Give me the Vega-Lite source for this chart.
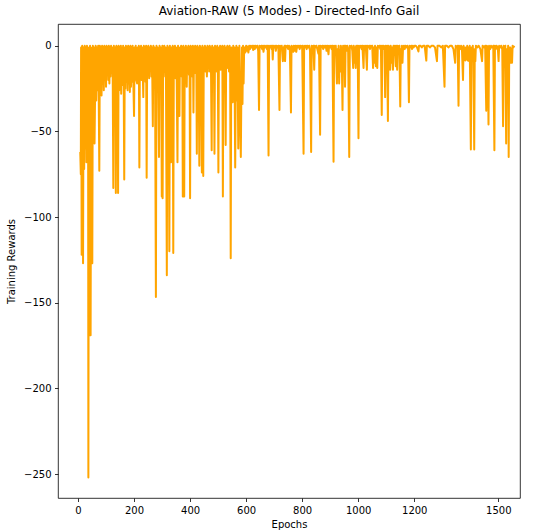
{
"$schema": "https://vega.github.io/schema/vega-lite/v6.json",
"width": 462, "height": 474,
"autosize": {"type": "none"},
"padding": {"left": 58, "top": 24, "right": 19, "bottom": 34},
"title": {"text": "Aviation-RAW (5 Modes) - Directed-Info Gail", "font": "DejaVu Sans", "fontSize": 12, "fontWeight": "normal", "color": "#000000", "offset": 6},
"config": {
 "view": {"stroke": "#000000", "strokeWidth": 0.8},
 "axis": {"domain": false, "grid": false, "ticks": true, "tickSize": 3.5, "tickWidth": 0.8, "tickColor": "#000000", "labelFont": "DejaVu Sans", "labelFontSize": 10, "labelColor": "#000000", "labelPadding": 3.5, "titleFont": "DejaVu Sans", "titleFontSize": 10, "titleFontWeight": "normal", "titleColor": "#000000"}
},
"data": {"values": [
{"e":8,"r":-62},{"e":10,"r":-75},{"e":11,"r":-1},{"e":12,"r":-35},{"e":13,"r":-122},{"e":15,"r":0},{"e":17,"r":-65},{"e":18,"r":-127},{"e":20,"r":-1},{"e":22,"r":-72},{"e":24,"r":0},{"e":26,"r":-60},{"e":28,"r":-1},{"e":30,"r":-68},{"e":32,"r":0},{"e":34,"r":-52},{"e":36,"r":-2},{"e":37,"r":-252},{"e":39,"r":-1},{"e":41,"r":-169},{"e":43,"r":0},{"e":45,"r":-169},{"e":47,"r":-2},{"e":48,"r":-45},{"e":49,"r":-62},{"e":50,"r":-1},{"e":51,"r":-127},{"e":53,"r":0},{"e":55,"r":-48},{"e":57,"r":-1},{"e":59,"r":-57},
{"e":61,"r":-28},{"e":63,"r":0},{"e":65,"r":-32},{"e":67,"r":-1},{"e":69,"r":-26},{"e":72,"r":0},{"e":74,"r":-30},{"e":76,"r":-73},{"e":78,"r":0},{"e":80,"r":-25},{"e":82,"r":-1},{"e":84,"r":-29},{"e":86,"r":0},{"e":88,"r":-22},{"e":90,"r":-1},{"e":92,"r":-26},{"e":94,"r":0},{"e":96,"r":-20},{"e":98,"r":-1},{"e":100,"r":-24},
{"e":102,"r":0},{"e":104,"r":-17},{"e":106,"r":-1},{"e":108,"r":-20},{"e":110,"r":0},{"e":112,"r":-22},{"e":114,"r":-1},{"e":116,"r":-18},{"e":118,"r":0},{"e":120,"r":-16},{"e":122,"r":-1},{"e":124,"r":-21},{"e":126,"r":-83},{"e":128,"r":0},
{"e":131,"r":-24},{"e":133,"r":-1},{"e":135,"r":-86},{"e":137,"r":0},{"e":139,"r":-21},{"e":141,"r":-1},{"e":143,"r":-86},{"e":145,"r":0},{"e":147,"r":-26},{"e":149,"r":-1},{"e":151,"r":-20},{"e":153,"r":0},{"e":154,"r":-28},{"e":156,"r":-1},{"e":159,"r":-23},{"e":161,"r":0},{"e":163,"r":-19},{"e":165,"r":-78},{"e":167,"r":-1},{"e":169,"r":-25},{"e":171,"r":0},{"e":173,"r":-21},{"e":175,"r":-1},{"e":177,"r":-26},{"e":179,"r":0},{"e":181,"r":-22},{"e":183,"r":-1},{"e":185,"r":-27},{"e":187,"r":0},{"e":189,"r":-24},{"e":191,"r":-1},{"e":193,"r":-21},{"e":195,"r":0},{"e":197,"r":-18},{"e":200,"r":-41},{"e":202,"r":-1},{"e":204,"r":-16},{"e":206,"r":0},{"e":208,"r":-20},{"e":211,"r":-22},{"e":213,"r":-1},{"e":215,"r":-14},{"e":217,"r":0},{"e":219,"r":-71},{"e":221,"r":-1},{"e":223,"r":-17},{"e":225,"r":0},{"e":227,"r":-20},{"e":229,"r":-1},{"e":231,"r":-15},{"e":233,"r":-30},{"e":235,"r":0},{"e":237,"r":-18},{"e":239,"r":-1},{"e":241,"r":-21},{"e":243,"r":0},{"e":245,"r":-77},{"e":247,"r":-1},{"e":249,"r":-16},{"e":251,"r":0},{"e":254,"r":-19},{"e":256,"r":-1},{"e":258,"r":-14},{"e":260,"r":0},{"e":262,"r":-18},{"e":264,"r":-1},{"e":267,"r":-47},{"e":269,"r":0},{"e":271,"r":-15},{"e":273,"r":-1},{"e":275,"r":-19},{"e":278,"r":-146.6},{"e":280,"r":0},{"e":282,"r":-17},{"e":284,"r":-1},{"e":286,"r":-13},{"e":289,"r":-65},{"e":291,"r":0},{"e":293,"r":-19},{"e":295,"r":-1},{"e":297,"r":-16},{"e":299,"r":-88},{"e":301,"r":0},{"e":302,"r":-89},{"e":304,"r":-1},{"e":306,"r":-18},{"e":308,"r":0},{"e":310,"r":-15},{"e":312,"r":-1},{"e":314,"r":-20},{"e":317,"r":-134},{"e":319,"r":0},{"e":321,"r":-16},{"e":323,"r":-1},{"e":326,"r":-120},{"e":328,"r":0},{"e":330,"r":-18},{"e":332,"r":-68},{"e":334,"r":-1},{"e":336,"r":-16},{"e":338,"r":0},{"e":340,"r":-121},{"e":342,"r":-1},{"e":344,"r":-14},{"e":346,"r":0},{"e":348,"r":-19},{"e":350,"r":-1},{"e":352,"r":-16},{"e":355,"r":-68},{"e":357,"r":0},{"e":359,"r":-17},{"e":362,"r":-41},{"e":364,"r":-1},{"e":366,"r":-13},{"e":368,"r":0},{"e":370,"r":-18},{"e":372,"r":-1},{"e":374,"r":-88},{"e":376,"r":0},{"e":379,"r":-88},{"e":381,"r":-1},{"e":383,"r":-16},{"e":385,"r":0},{"e":388,"r":-24},{"e":390,"r":-1},{"e":392,"r":-14},{"e":394,"r":0},{"e":396,"r":-17},{"e":398,"r":-1},{"e":400,"r":-89},{"e":402,"r":0},{"e":404,"r":-15},{"e":406,"r":-1},{"e":408,"r":-18},{"e":410,"r":0},{"e":412,"r":-39},{"e":414,"r":-1},{"e":416,"r":-12},{"e":418,"r":0},{"e":420,"r":-16},{"e":422,"r":-1},{"e":424,"r":-63},{"e":426,"r":0},{"e":428,"r":-14},{"e":430,"r":-1},{"e":433,"r":-70},{"e":435,"r":0},{"e":437,"r":-16},{"e":439,"r":-1},{"e":442,"r":-74},{"e":444,"r":0},{"e":447,"r":-76},{"e":449,"r":-1},{"e":451,"r":-13},{"e":453,"r":0},{"e":455,"r":-15},{"e":457,"r":-1},{"e":460,"r":-18},{"e":462,"r":0},{"e":464,"r":-12},{"e":466,"r":-1},{"e":468,"r":-15},{"e":470,"r":0},{"e":472,"r":-11},{"e":474,"r":-1},{"e":477,"r":-61},{"e":479,"r":0},{"e":481,"r":-14},{"e":483,"r":-1},{"e":485,"r":-10},{"e":487,"r":-63},{"e":489,"r":0},{"e":491,"r":-13},{"e":493,"r":-1},{"e":495,"r":-15},{"e":497,"r":0},{"e":499,"r":-11},{"e":501,"r":-74},{"e":503,"r":-1},{"e":505,"r":-13},{"e":507,"r":0},{"e":509,"r":-14},{"e":511,"r":-1},{"e":513,"r":-10},{"e":515,"r":0},{"e":517,"r":-88},{"e":519,"r":-1},{"e":521,"r":-12},{"e":523,"r":0},{"e":525,"r":-14},{"e":527,"r":-58},{"e":529,"r":-1},{"e":531,"r":-11},{"e":533,"r":0},{"e":535,"r":-13},{"e":537,"r":-1},{"e":539,"r":-15},{"e":541,"r":0},{"e":543,"r":-12},{"e":545,"r":-124},{"e":547,"r":-1},{"e":549,"r":-14},{"e":552,"r":-33},{"e":554,"r":0},{"e":556,"r":-18},{"e":558,"r":-1},{"e":561,"r":-71},{"e":563,"r":-22},{"e":565,"r":0},{"e":567,"r":-32},{"e":569,"r":-1},{"e":572,"r":-60},{"e":574,"r":-30},{"e":576,"r":0},{"e":578,"r":-36},{"e":581,"r":-65},{"e":583,"r":-28},{"e":585,"r":-1},{"e":587,"r":-34},{"e":589,"r":0},{"e":591,"r":-22},{"e":593,"r":-1},
{"e":595,"r":-1},{"e":597,"r":-4},{"e":600,"r":0},{"e":602,"r":-3},{"e":605,"r":-0.5},{"e":608,"r":-4},{"e":611,"r":0},{"e":614,"r":-2},{"e":617,"r":0},{"e":620,"r":-1},{"e":623,"r":0},{"e":625,"r":-2.5},{"e":628,"r":0},{"e":631,"r":-2},{"e":634,"r":0},{"e":637,"r":-1},{"e":640,"r":0},{"e":643,"r":-3},{"e":646,"r":-37.5},{"e":648,"r":0},{"e":651,"r":-1},{"e":654,"r":0},{"e":657,"r":-2},{"e":660,"r":0},{"e":662,"r":-3.6},{"e":665,"r":0},{"e":668,"r":-1},{"e":671,"r":0},{"e":674,"r":-2},{"e":677,"r":0},{"e":680,"r":-64},{"e":682,"r":0},{"e":685,"r":-1},{"e":688,"r":0},{"e":691,"r":-2},{"e":693,"r":0},{"e":695,"r":-8},{"e":697,"r":0},{"e":700,"r":-1},{"e":703,"r":0},{"e":706,"r":-3},{"e":709,"r":0},{"e":712,"r":-1},{"e":715,"r":0},{"e":719,"r":-37.5},{"e":721,"r":0},{"e":724,"r":-1},{"e":727,"r":0},{"e":731,"r":-9},{"e":733,"r":-1},{"e":735,"r":-8},{"e":737,"r":0},{"e":739,"r":-9},{"e":741,"r":0},{"e":744,"r":-1},{"e":747,"r":0},{"e":750,"r":-2},{"e":753,"r":0},{"e":756,"r":-1},{"e":760,"r":-39},{"e":762,"r":0},{"e":765,"r":-1},{"e":768,"r":-3.6},{"e":770,"r":0},{"e":773,"r":-3},{"e":776,"r":0},{"e":779,"r":-3.6},{"e":782,"r":0},{"e":785,"r":-1},{"e":788,"r":0},{"e":791,"r":-2},{"e":794,"r":0},{"e":797,"r":-1},{"e":800,"r":0},{"e":805,"r":-63},{"e":807,"r":0},{"e":810,"r":-1},{"e":813,"r":0},{"e":816,"r":-2},{"e":819,"r":0},{"e":822,"r":-1},{"e":825,"r":0},{"e":828,"r":-3},{"e":832,"r":-62},{"e":834,"r":0},{"e":837,"r":-1},{"e":840,"r":0},{"e":843,"r":-14},{"e":845,"r":0},{"e":848,"r":-1},{"e":851,"r":0},{"e":854,"r":-2},{"e":858,"r":-4.7},{"e":860,"r":0},{"e":864,"r":-52},{"e":866,"r":0},{"e":869,"r":-1},{"e":872,"r":0},{"e":875,"r":-2},{"e":878,"r":0},{"e":881,"r":-1},{"e":884,"r":0},{"e":887,"r":-3},{"e":890,"r":0},{"e":894,"r":-5},{"e":896,"r":0},{"e":899,"r":-1},{"e":902,"r":0},{"e":905,"r":-2},{"e":908,"r":0},{"e":912,"r":-67.7},{"e":914,"r":0},{"e":917,"r":-2},{"e":920,"r":0},{"e":924,"r":-22},{"e":926,"r":-2},{"e":928,"r":-18},{"e":930,"r":0},{"e":932,"r":-22},{"e":934,"r":-3},{"e":936,"r":-15},{"e":938,"r":0},{"e":941,"r":-4},{"e":944,"r":-37.5},{"e":946,"r":0},{"e":949,"r":-5},{"e":951,"r":0},{"e":953,"r":-24},{"e":955,"r":0},{"e":958,"r":-3},{"e":961,"r":0},{"e":964,"r":-2},{"e":968,"r":-65},{"e":970,"r":0},{"e":973,"r":-1},{"e":976,"r":0},{"e":979,"r":-3},{"e":982,"r":-13},{"e":984,"r":0},{"e":987,"r":-10},{"e":989,"r":-1},{"e":991,"r":-13},{"e":993,"r":0},{"e":996,"r":-8},{"e":998,"r":0},{"e":1001,"r":-54},{"e":1003,"r":0},{"e":1006,"r":-1},{"e":1009,"r":0},{"e":1012,"r":-2},{"e":1015,"r":0},{"e":1019,"r":-13},{"e":1021,"r":0},{"e":1024,"r":-1},{"e":1027,"r":0},{"e":1031,"r":-14},{"e":1033,"r":0},{"e":1036,"r":-1},{"e":1039,"r":0},{"e":1042,"r":-2},{"e":1045,"r":0},{"e":1048,"r":-1},{"e":1050,"r":0},{"e":1053,"r":-13},{"e":1055,"r":-1},{"e":1058,"r":-10},{"e":1060,"r":0},{"e":1063,"r":-12},{"e":1065,"r":-1},{"e":1068,"r":-13},{"e":1070,"r":0},{"e":1073,"r":-1},{"e":1076,"r":0},{"e":1079,"r":-2},{"e":1081,"r":0},{"e":1084,"r":-40.5},{"e":1086,"r":0},{"e":1089,"r":-2},{"e":1091,"r":0},{"e":1094,"r":-1},{"e":1096,"r":-30},{"e":1098,"r":0},{"e":1101,"r":-2},{"e":1103,"r":0},{"e":1106,"r":-44},{"e":1108,"r":0},{"e":1111,"r":-1},{"e":1114,"r":-14},{"e":1116,"r":0},{"e":1119,"r":-10},{"e":1121,"r":-1},{"e":1124,"r":-14},{"e":1126,"r":0},{"e":1129,"r":-3},{"e":1131,"r":0},{"e":1134,"r":-12},{"e":1136,"r":0},{"e":1139,"r":-14},{"e":1141,"r":0},{"e":1144,"r":-1},{"e":1147,"r":0},{"e":1150,"r":-35.5},{"e":1152,"r":-2},{"e":1154,"r":-10},{"e":1156,"r":0},{"e":1158,"r":-10},{"e":1160,"r":-1},{"e":1163,"r":0},{"e":1166,"r":-2},{"e":1169,"r":0},{"e":1172,"r":-1},{"e":1175,"r":0},{"e":1178,"r":-2},{"e":1181,"r":-33},{"e":1183,"r":0},{"e":1186,"r":-1},{"e":1189,"r":0},{"e":1192,"r":-2},{"e":1195,"r":0},{"e":1198,"r":-1},{"e":1201,"r":0},{"e":1205,"r":0},{"e":1210,"r":-1},{"e":1215,"r":-3.4},{"e":1217,"r":0},{"e":1222,"r":0},{"e":1227,"r":-1},{"e":1232,"r":0},{"e":1237,"r":0},{"e":1243,"r":-8.7},{"e":1245,"r":0},{"e":1250,"r":0},{"e":1256,"r":-1},{"e":1262,"r":0},{"e":1268,"r":0},{"e":1274,"r":-1},{"e":1281,"r":-9},{"e":1283,"r":0},{"e":1290,"r":0},{"e":1296,"r":-1},{"e":1302,"r":0},{"e":1308,"r":-24},{"e":1310,"r":0},{"e":1316,"r":0},{"e":1322,"r":-1},{"e":1328,"r":0},{"e":1334,"r":0},{"e":1340,"r":-2},{"e":1346,"r":-10},{"e":1348,"r":0},{"e":1352,"r":-1},{"e":1355,"r":0},{"e":1358,"r":-35},{"e":1360,"r":0},{"e":1364,"r":-2},{"e":1367,"r":0},{"e":1370,"r":-1},{"e":1374,"r":-20},{"e":1376,"r":0},{"e":1379,"r":-2},{"e":1382,"r":-8.6},{"e":1384,"r":-1},{"e":1387,"r":-8},{"e":1389,"r":0},{"e":1391,"r":-8.6},{"e":1393,"r":-1},{"e":1396,"r":-9},{"e":1398,"r":0},{"e":1402,"r":-60.5},{"e":1404,"r":-1},{"e":1407,"r":-9},{"e":1409,"r":0},{"e":1411,"r":-9.6},{"e":1414,"r":-60.5},{"e":1416,"r":-2},{"e":1418,"r":-9},{"e":1420,"r":0},{"e":1425,"r":-1},{"e":1430,"r":0},{"e":1436,"r":-2},{"e":1442,"r":-9},{"e":1444,"r":0},{"e":1449,"r":-1},{"e":1453,"r":0},{"e":1457,"r":-38},{"e":1459,"r":0},{"e":1462,"r":-1},{"e":1465,"r":-46},{"e":1467,"r":0},{"e":1471,"r":-2},{"e":1474,"r":0},{"e":1478,"r":-1},{"e":1482,"r":0},{"e":1486,"r":-61},{"e":1488,"r":0},{"e":1491,"r":-2},{"e":1494,"r":0},{"e":1498,"r":-1},{"e":1501,"r":-9},{"e":1503,"r":0},{"e":1507,"r":-1},{"e":1510,"r":0},{"e":1514,"r":-2},{"e":1517,"r":-47},{"e":1519,"r":0},{"e":1522,"r":-1},{"e":1525,"r":0},{"e":1528,"r":-57},{"e":1530,"r":-2},{"e":1533,"r":-10},{"e":1535,"r":0},{"e":1537,"r":-65},{"e":1539,"r":-1},{"e":1541,"r":-10},{"e":1543,"r":-1},{"e":1545,"r":-10},{"e":1547,"r":-2},{"e":1549,"r":-10},{"e":1551,"r":0},{"e":1554,"r":-1},{"e":1557,"r":0}
]},
"mark": {"type": "line", "color": "#FFA500", "strokeWidth": 2, "strokeJoin": "round", "clip": true},
"encoding": {
 "x": {"field": "e", "type": "quantitative", "scale": {"domain": [-71.4, 1577.4], "nice": false, "zero": false}, "axis": {"values": [0, 200, 400, 600, 800, 1000, 1200, 1500], "format": "d", "title": "Epochs", "titlePadding": 4}},
 "y": {"field": "r", "type": "quantitative", "scale": {"domain": [-263.9, 12.66], "nice": false, "zero": false}, "axis": {"values": [0, -50, -100, -150, -200, -250], "format": "d", "title": "Training Rewards", "titlePadding": 7}}
}
}
